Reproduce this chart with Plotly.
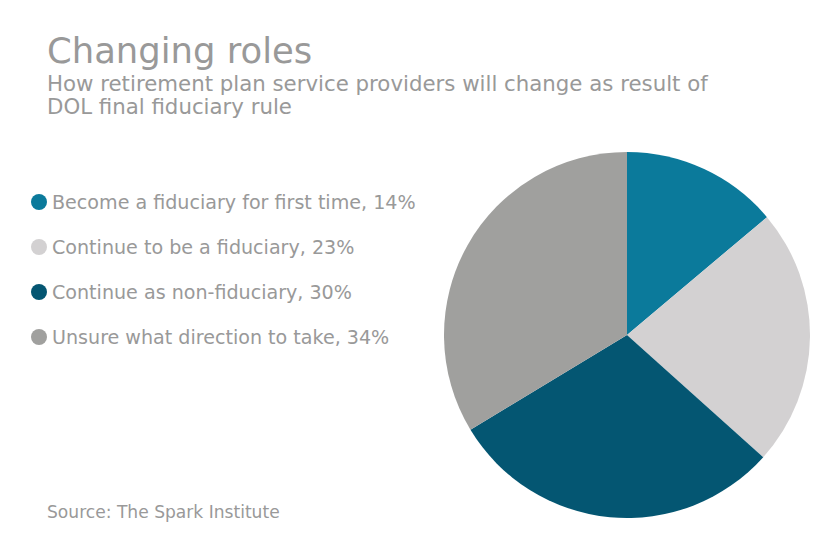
import plotly.graph_objects as go

categories = ['Become a fiduciary for first time', 'Continue to be a fiduciary',
              'Continue as non-fiduciary', 'Unsure what direction to take']
shares = [14, 23, 30, 34]
colors = ['#0b7a9b', '#d3d1d2', '#045672', '#a0a09e']
text_color = '#999999'
legend_y = [202, 247, 292, 337]

# the page body has an 8px margin, so the figure starts at (8, 8)
OFFSET = 8
W, H = 824, 531


def px_x(x):
    return (x - OFFSET) / W


def px_y(y):
    return 1 - (y - OFFSET) / H


fig = go.Figure()
fig.add_trace(go.Pie(
    labels=categories,
    values=shares,
    marker=dict(colors=colors, line=dict(width=0)),
    sort=False,
    direction='clockwise',
    rotation=0,
    textinfo='none',
    showlegend=False,
    domain=dict(x=[px_x(444), px_x(810)], y=[px_y(518), px_y(152)]),
))


def add_text(x, y, text, size):
    fig.add_annotation(x=px_x(x), y=px_y(y), xref='paper', yref='paper', text=text,
                       showarrow=False, xanchor='left', yanchor='middle', align='left',
                       font=dict(size=size, color=text_color))


add_text(45, 51, 'Changing roles', 35.4)
add_text(45, 83, 'How retirement plan service providers will change as result of', 21.3)
add_text(45, 106, 'DOL final fiduciary rule', 21.3)
add_text(45, 512, 'Source: The Spark Institute', 17.1)

for name, share, color, y in zip(categories, shares, colors, legend_y):
    add_text(50, y, f'{name}, {share}%', 19.1)
    fig.add_shape(type='circle', xref='paper', yref='paper', line_width=0, fillcolor=color,
                  x0=px_x(31), x1=px_x(47), y0=px_y(y + 8), y1=px_y(y - 8))

fig.update_layout(
    width=W, height=H,
    margin=dict(l=0, r=0, t=0, b=0),
    paper_bgcolor='white',
    font=dict(family='DejaVu Sans'),
)

fig.write_html('out.html')
